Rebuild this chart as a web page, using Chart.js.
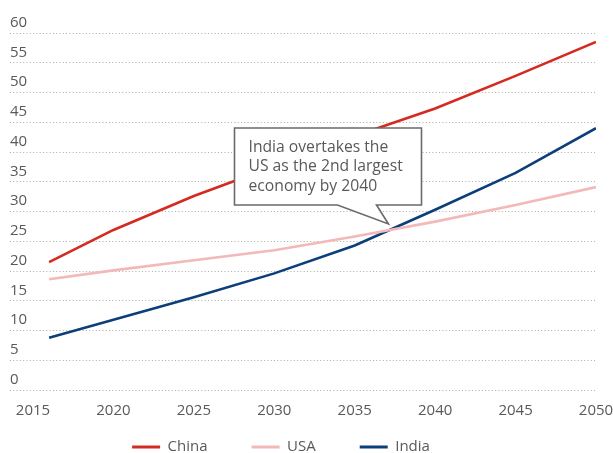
<!DOCTYPE html>
<html>
<head>
<meta charset="utf-8">
<script src="https://cdn.jsdelivr.net/npm/chart.js@4.4.1/dist/chart.umd.min.js"></script>
<style>
  html, body { margin: 0; padding: 0; background: #ffffff; }
  #wrap { width: 613px; height: 453px; position: relative; }
</style>
</head>
<body>
<div id="wrap"><canvas id="c" width="613" height="453"></canvas></div>
<script>
// ---- data ----
const years = [2016, 2020, 2025, 2030, 2035, 2040, 2045, 2050];
const china = [21.5, 26.9, 32.6, 37.6, 42.7, 47.3, 52.8, 58.5];
const usa   = [18.6, 20.1, 21.8, 23.5, 25.8, 28.3, 31.1, 34.1];
const india = [8.8, 11.8, 15.6, 19.6, 24.3, 30.3, 36.5, 44.0];
const seriesNames = ['China', 'USA', 'India'];
const xTicks = [2015, 2020, 2025, 2030, 2035, 2040, 2045, 2050];
const yTicks = [0, 5, 10, 15, 20, 25, 30, 35, 40, 45, 50, 55, 60];
const calloutLines = ['India overtakes the', 'US as the 2nd largest', 'economy by 2040'];
const calloutPoint = [2037.1, 27.9];

const colors = ['#d42a20', '#f3b8b8', '#0c3f7a'];
const textColor = '#595959';

Chart.defaults.font.family = "'Open Sans', sans-serif";
Chart.defaults.font.size = 15;
Chart.defaults.color = textColor;

const toPts = arr => years.map((y, i) => ({ x: y, y: arr[i] }));

const calloutPlugin = {
  id: 'callout',
  afterDatasetsDraw(chart) {
    const ctx = chart.ctx;
    const xs = chart.scales.x, ys = chart.scales.y;
    const tx = xs.getPixelForValue(calloutPoint[0]);
    const ty = ys.getPixelForValue(calloutPoint[1]);
    const left = tx - 154, right = tx + 33, top = ty - 96, bottom = ty - 19;
    ctx.save();
    ctx.beginPath();
    ctx.moveTo(left, top);
    ctx.lineTo(right, top);
    ctx.lineTo(right, bottom);
    ctx.lineTo(tx - 12, bottom);
    ctx.lineTo(tx, ty);
    ctx.lineTo(tx - 51, bottom);
    ctx.lineTo(left, bottom);
    ctx.closePath();
    ctx.fillStyle = '#ffffff';
    ctx.fill();
    ctx.lineWidth = 1.6;
    ctx.strokeStyle = '#6a6a6a';
    ctx.lineJoin = 'miter';
    ctx.stroke();
    ctx.fillStyle = textColor;
    ctx.font = "15.7px 'Open Sans', sans-serif";
    ctx.textBaseline = 'alphabetic';
    ctx.textAlign = 'left';
    calloutLines.forEach((t, i) => ctx.fillText(t, left + 14, top + 24 + i * 19.5));
    ctx.restore();
  }
};

const legendShift = {
  id: 'legendShift',
  afterLayout(chart) {
    const l = chart.legend;
    if (!l) return;
    l.left -= 22; l.right -= 22;
    l.top -= 24.5;
    l.bottom = chart.height + 40;
    l.height = l.bottom - l.top;
  }
};

new Chart(document.getElementById('c'), {
  type: 'line',
  data: {
    datasets: [china, usa, india].map((arr, i) => ({
      label: seriesNames[i],
      data: toPts(arr),
      borderColor: colors[i],
      backgroundColor: colors[i],
      borderWidth: 2.6,
      pointRadius: 0,
      pointHoverRadius: 0,
      tension: 0,
      fill: false
    }))
  },
  options: {
    responsive: false,
    animation: false,
    devicePixelRatio: 1,
    layout: { padding: { left: 10, right: 17, top: 33, bottom: 0 } },
    plugins: {
      tooltip: { enabled: false },
      legend: {
        position: 'bottom',
        maxHeight: 33,
        labels: {
          boxWidth: 28,
          boxHeight: 3,
          padding: 44,
          color: textColor,
          font: { size: 15 },
          generateLabels: chart => chart.data.datasets.map((ds, i) => ({
            text: ds.label,
            fillStyle: ds.borderColor,
            strokeStyle: ds.borderColor,
            lineWidth: 0,
            hidden: false,
            datasetIndex: i,
            fontColor: textColor
          }))
        }
      }
    },
    scales: {
      x: {
        type: 'linear',
        min: 2013.57,
        max: 2050,
        grid: { display: false, drawTicks: false },
        border: { display: false },
        ticks: {
          padding: 12,
          color: textColor,
          font: { size: 15 },
          maxRotation: 0,
          autoSkip: false,
          callback: v => String(v)
        },
        afterBuildTicks: s => { s.ticks = xTicks.map(v => ({ value: v })); },
        afterFit: s => { s.height = 30; s.paddingLeft = 0; s.paddingRight = 0; }
      },
      y: {
        min: 0,
        max: 60,
        grid: { color: '#ababab', lineWidth: 1, drawTicks: false },
        border: { display: false, dash: [1, 2.3] },
        ticks: {
          mirror: true,
          padding: 0,
          labelOffset: -10.5,
          color: textColor,
          font: { size: 15 },
          callback: v => String(v)
        },
        afterBuildTicks: s => { s.ticks = yTicks.map(v => ({ value: v })); },
        afterFit: s => { s.width = 0; s.paddingTop = 0; s.paddingBottom = 0; }
      }
    }
  },
  plugins: [calloutPlugin, legendShift]
});
</script>
</body>
</html>
